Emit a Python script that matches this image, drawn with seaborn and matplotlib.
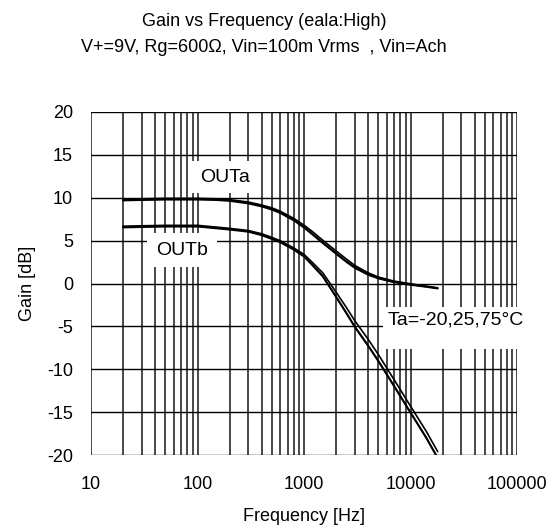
import numpy as np
import pandas as pd
import matplotlib
matplotlib.use("Agg")
import matplotlib.pyplot as plt
import matplotlib.ticker as mticker
import seaborn as sns

# ---- data ----
freq = [20, 30, 50, 100, 150, 200, 300, 400, 500, 600, 800, 1000, 1200, 1500,
        2000, 2500, 3000, 4000, 5000, 7000, 10000, 14000, 18000]

outa_m20 = [9.83, 9.88, 9.93, 9.93, 9.88, 9.78, 9.5, 9.15, 8.82, 8.42, 7.6, 6.8,
            6.05, 5.05, 3.8, 2.85, 2.1, 1.25, 0.75, 0.28, -0.03, -0.3, -0.5]
outa_25 = [9.75, 9.8, 9.85, 9.85, 9.8, 9.7, 9.4, 9.05, 8.7, 8.3, 7.45, 6.6,
           5.8, 4.8, 3.55, 2.6, 1.9, 1.1, 0.65, 0.2, -0.1, -0.35, -0.55]
outa_75 = [9.67, 9.72, 9.77, 9.77, 9.72, 9.62, 9.32, 8.97, 8.6, 8.2, 7.35, 6.5,
           5.7, 4.7, 3.45, 2.5, 1.8, 1.0, 0.57, 0.13, -0.17, -0.4, -0.6]

outb_m20 = [6.68, 6.73, 6.78, 6.78, 6.58, 6.43, 6.18, 5.8, 5.37, 4.98, 4.15, 3.4,
            2.45, 1.25, -1.0, -2.8, -4.35, -6.5, -8.3, -11.2, -14.3, -17.2, -19.6]
outb_25 = [6.6, 6.65, 6.7, 6.7, 6.5, 6.35, 6.1, 5.7, 5.25, 4.85, 4.0, 3.2,
           2.2, 0.9, -1.5, -3.4, -5.0, -7.2, -9.0, -11.9, -15.0, -17.9, -20.3]
outb_75 = [6.52, 6.57, 6.62, 6.62, 6.42, 6.27, 6.02, 5.62, 5.17, 4.78, 3.93, 3.13,
           2.1, 0.8, -1.6, -3.5, -5.1, -7.3, -9.1, -12.0, -15.1, -18.0, -20.4]

x_ticks = [10, 100, 1000, 10000, 100000]
x_tick_labels = ["10", "100", "1000", "10000", "100000"]
y_ticks = [-20, -15, -10, -5, 0, 5, 10, 15, 20]
y_tick_labels = ["-20", "-15", "-10", "-5", "0", "5", "10", "15", "20"]

title1 = "Gain vs Frequency (eala:High)"
title2 = "V+=9V, Rg=600\u03a9, Vin=100m Vrms  , Vin=Ach"

series = {
    ("OUTa", "-20"): outa_m20, ("OUTa", "25"): outa_25, ("OUTa", "75"): outa_75,
    ("OUTb", "-20"): outb_m20, ("OUTb", "25"): outb_25, ("OUTb", "75"): outb_75,
}
rows = []
for (out, ta), vals in series.items():
    for f, g in zip(freq, vals):
        rows.append({"freq": f, "gain": g, "series": f"{out}_{ta}"})
df = pd.DataFrame(rows)

sns.set_style("white")
plt.rcParams["font.family"] = ["Liberation Sans", "DejaVu Sans"]
plt.rcParams["font.size"] = 13
plt.rcParams["text.color"] = "black"
plt.rcParams["axes.labelcolor"] = "black"
plt.rcParams["xtick.color"] = "black"
plt.rcParams["ytick.color"] = "black"

fig = plt.figure(figsize=(5.55, 5.29), dpi=100)
ax = fig.add_axes([91 / 555, 1 - 455 / 529, 426 / 555, 343 / 529])

sns.lineplot(data=df, x="freq", y="gain", units="series", estimator=None,
             color="black", linewidth=1.2, ax=ax, legend=False, zorder=3)

ax.set_xscale("log")
ax.set_xlim(10, 100000)
ax.set_ylim(-20, 20)
ax.set_xticks(x_ticks)
ax.set_xticklabels(x_tick_labels)
ax.xaxis.set_minor_locator(mticker.LogLocator(base=10, subs=np.arange(2, 10)))
ax.xaxis.set_minor_formatter(mticker.NullFormatter())
ax.set_yticks(y_ticks)
ax.set_yticklabels(y_tick_labels)

ax.grid(True, which="major", axis="x", color="#3a3a3a", linewidth=1.3)
ax.grid(True, which="minor", axis="x", color="#3a3a3a", linewidth=1.3)
ax.grid(True, which="major", axis="y", color="black", linewidth=1.0)
ax.set_axisbelow(True)

ax.tick_params(axis="x", which="both", length=0, pad=15, labelsize=13)
ax.tick_params(axis="y", which="major", direction="in", length=5, width=1.2,
               color="black", pad=13, labelsize=13)
ax.tick_params(axis="y", which="minor", length=0)
for s in ax.spines.values():
    s.set_visible(False)

ax.set_xlabel("Frequency [Hz]", fontsize=13)
ax.xaxis.set_label_coords(0.5, -0.155)
ax.set_ylabel("Gain [dB]", fontsize=13)
ax.yaxis.set_label_coords(-0.128, 0.5)

ax.text(181, 12.4, "OUTa", ha="center", va="center", fontsize=14,
        bbox=dict(boxstyle="square,pad=0.4", facecolor="white", edgecolor="none"), zorder=2)
ax.text(71.5, 3.9, "OUTb", ha="center", va="center", fontsize=14,
        bbox=dict(boxstyle="square,pad=0.45", facecolor="white", edgecolor="none"), zorder=2)
ax.text(6150, -3.3, "Ta=-20,25,75\u00b0C\n ", ha="left", va="top", fontsize=14,
        linespacing=0.85,
        bbox=dict(boxstyle="square,pad=0.25", facecolor="white", edgecolor="none"),
        zorder=2, clip_on=False)

fig.text(264 / 555, 1 - 22 / 529, title1, ha="center", va="center", fontsize=13)
fig.text(264 / 555, 1 - 48 / 529, title2, ha="center", va="center", fontsize=13)

fig.savefig("out.png", dpi=100)
